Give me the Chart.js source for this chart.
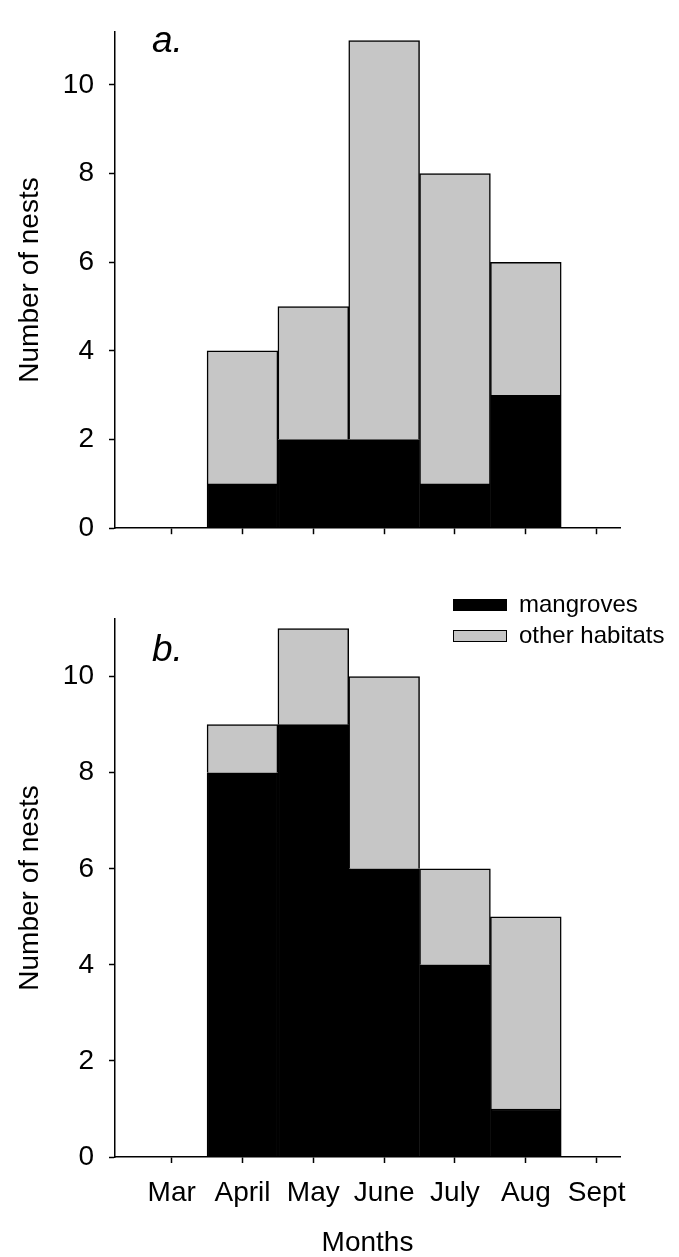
<!DOCTYPE html>
<html>
<head>
<meta charset="utf-8">
<script src="https://cdn.jsdelivr.net/npm/chart.js@4.4.1/dist/chart.umd.min.js"></script>
<style>
  body { margin: 0; background: #fff; }
  .panel { position: absolute; left: 0; width: 679px; }
  #wrapA { top: 0; height: 560px; }
  #wrapB { top: 580px; height: 677px; }
</style>
</head>
<body>
<div class="panel" id="wrapA"><canvas id="chartA" width="679" height="560"></canvas></div>
<div class="panel" id="wrapB"><canvas id="chartB" width="679" height="677"></canvas></div>
<script>
const months = ['Mar', 'April', 'May', 'June', 'July', 'Aug', 'Sept'];
const monthPos = [1, 2, 3, 4, 5, 6, 7];
const barPos = [2, 3, 4, 5, 6];          // April .. Aug
const mangrovesA = [1, 2, 2, 1, 3];
const otherA = [3, 3, 9, 7, 3];
const mangrovesB = [8, 9, 6, 4, 1];
const otherB = [1, 2, 4, 2, 4];
const yTicks = [0, 2, 4, 6, 8, 10];
const seriesNames = ['mangroves', 'other habitats'];

const FONT = '"Liberation Sans", Arial, Helvetica, sans-serif';
const GREY = '#c6c6c6';

// panel letter and (optional) legend drawn on top of the chart
const panelDecor = {
    id: 'panelDecor',
    afterDraw(chart, args, o) {
        const ctx = chart.ctx;
        ctx.save();
        ctx.fillStyle = '#000';
        ctx.font = `italic 37px ${FONT}`;
        ctx.textBaseline = 'alphabetic';
        ctx.textAlign = 'left';
        ctx.fillText(o.letter, o.letterX, o.letterY);

        if (o.legend) {
            ctx.font = `24px ${FONT}`;
            ctx.textBaseline = 'middle';
            chart.data.datasets.forEach((ds, i) => {
                const y = o.legendY + i * 31;
                ctx.fillStyle = ds.backgroundColor;
                ctx.fillRect(o.legendX, y, 54, 12);
                ctx.lineWidth = 1;
                ctx.strokeStyle = '#000';
                ctx.strokeRect(o.legendX + 0.5, y + 0.5, 53, 11);
                ctx.fillStyle = '#000';
                ctx.fillText(ds.label, o.legendX + 66, y + 6);
            });
        }
        ctx.restore();
    }
};

function makePanel(id, mangroves, other, cfg) {
    const ctx = document.getElementById(id).getContext('2d');
    return new Chart(ctx, {
        type: 'bar',
        data: {
            datasets: [{
                label: seriesNames[0],
                data: barPos.map((x, i) => ({ x: x, y: mangroves[i] })),
                backgroundColor: '#000',
                borderColor: '#000',
                borderWidth: 1.5,
                barPercentage: 1,
                categoryPercentage: 1
            }, {
                label: seriesNames[1],
                data: barPos.map((x, i) => ({ x: x, y: other[i] })),
                backgroundColor: GREY,
                borderColor: '#000',
                borderWidth: 1.5,
                barPercentage: 1,
                categoryPercentage: 1
            }]
        },
        options: {
            responsive: false,
            animation: false,
            layout: { padding: { left: 0, right: 59, top: cfg.top, bottom: 0 } },
            plugins: {
                legend: { display: false },
                tooltip: { enabled: false },
                panelDecor: cfg.decor
            },
            scales: {
                x: {
                    type: 'linear',
                    stacked: true,
                    offset: false,
                    min: 0.2,
                    max: 7.33,
                    afterBuildTicks: (scale) => {
                        scale.ticks = monthPos.map(v => ({ value: v }));
                    },
                    afterFit: (scale) => { scale.height = cfg.xHeight; },
                    border: { display: true, color: '#000', width: 1.5 },
                    grid: {
                        offset: false,
                        drawOnChartArea: false,
                        drawTicks: true,
                        tickLength: 6,
                        tickColor: '#000',
                        tickWidth: 1.5
                    },
                    ticks: {
                        display: cfg.showMonths,
                        autoSkip: false,
                        maxRotation: 0,
                        padding: 13,
                        color: '#000',
                        font: { family: FONT, size: 28 },
                        callback: (v) => months[monthPos.indexOf(v)]
                    },
                    title: {
                        display: cfg.showMonths,
                        text: 'Months',
                        color: '#000',
                        padding: { top: 0, bottom: 0 },
                        font: { family: FONT, size: 28, lineHeight: 1 }
                    }
                },
                y: {
                    stacked: true,
                    min: 0,
                    max: 11.2,
                    afterBuildTicks: (scale) => {
                        scale.ticks = yTicks.map(v => ({ value: v }));
                    },
                    afterFit: (scale) => { scale.width = 115; },
                    border: { display: true, color: '#000', width: 1.5 },
                    grid: {
                        drawOnChartArea: false,
                        drawTicks: true,
                        tickLength: 6,
                        tickColor: '#000',
                        tickWidth: 1.5
                    },
                    ticks: {
                        padding: 15,
                        color: '#000',
                        font: { family: FONT, size: 28 }
                    },
                    title: {
                        display: true,
                        text: 'Number of nests',
                        color: '#000',
                        padding: { top: 16, bottom: 0 },
                        font: { family: FONT, size: 28, lineHeight: 1 }
                    }
                }
            }
        },
        plugins: [panelDecor]
    });
}

makePanel('chartA', mangrovesA, otherA, {
    top: 10,
    xHeight: 11,
    showMonths: false,
    decor: { letter: 'a.', letterX: 152, letterY: 52, legend: false }
});

makePanel('chartB', mangrovesB, otherB, {
    top: 39,
    xHeight: 100,
    showMonths: true,
    decor: { letter: 'b.', letterX: 152, letterY: 81, legend: true, legendX: 453, legendY: 19 }
});
</script>
</body>
</html>
